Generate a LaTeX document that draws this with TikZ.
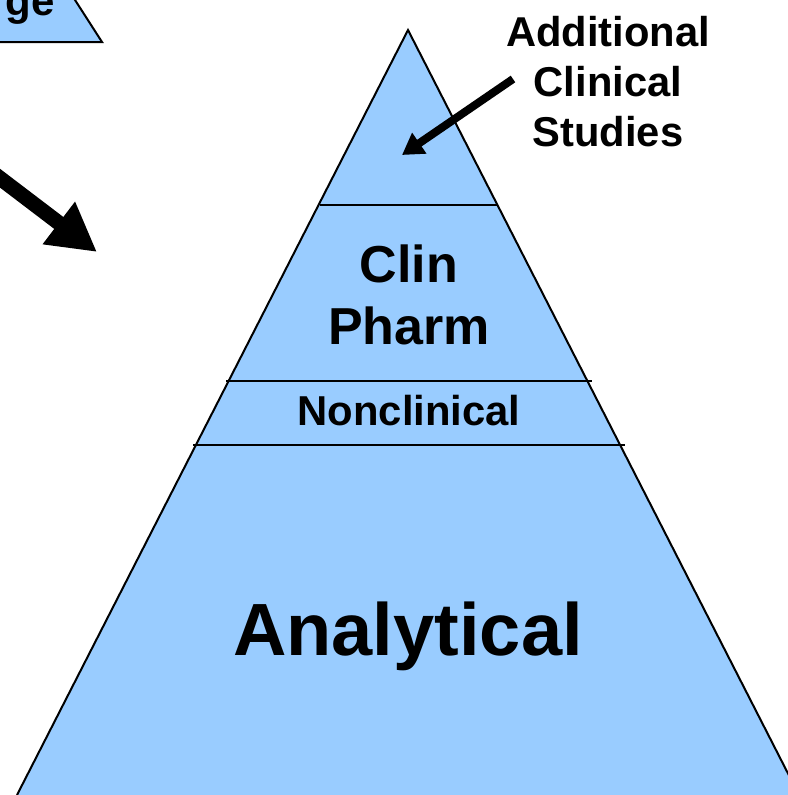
\documentclass[tikz,border=0pt]{standalone}
\usepackage{fontspec}
\setmainfont{Liberation Sans}
\usetikzlibrary{arrows.meta,positioning,calc}
\definecolor{tier}{HTML}{99CCFF}
\tikzset{
  outline/.style={line width=2pt,black},
  tierline/.style={line width=1.6pt,black},
  tiertext/.style={font=\bfseries,align=center,inner sep=0pt},
  bigarrow/.style={-{Triangle[length=48pt,width=50pt]},line width=15pt},
  smallarrow/.style={-{Triangle[length=21pt,width=24pt]},line width=8pt}
}

\begin{document}
\begin{tikzpicture}[x=1pt,y=-1pt]
\useasboundingbox (0,0) rectangle (787,795);
% corner of the previous tier
\fill[tier] (-20,-10) -- (68.6,-10) -- (102,42) -- (-20,42) -- cycle;
\draw[outline] (68.6,-10) -- (102,42) -- (-20,42);
\node[tiertext,font=\bfseries\fontsize{42}{50}\selectfont,anchor=base east] (knowtxt) at (55,15) {ge};
% the pyramid
\coordinate (apex) at (408,30);
\coordinate (bl) at (17,795);
\coordinate (br) at (799,795);
\fill[tier] (apex) -- (br) -- (bl) -- cycle;
\draw[outline,line join=miter] (bl) -- (apex) -- (br);
\foreach \y/\l/\r in {205/320/497,381/226/592,445/193/625}
  \draw[tierline] (\l,\y) -- (\r,\y);
% labels
\node[tiertext,font=\bfseries\fontsize{74}{80}\selectfont,anchor=base] (analyt) at (408,655) {Analytical};
\node[tiertext,font=\bfseries\fontsize{41.8}{50}\selectfont] (noncli) at (409,411) {Nonclinical};
\node[tiertext,font=\bfseries\fontsize{52}{62}\selectfont] (clinph) at (409,295) {Clin\\Pharm};
\node[tiertext,font=\bfseries\fontsize{41.7}{50}\selectfont] (addcli) at (608,82) {Additional\\Clinical\\Studies};
% arrows
\coordinate (toptip) at (402,155);
\coordinate (toptail) at (513,79);
\draw[smallarrow] (toptail) -- (toptip);
\coordinate (bigtail) at (-20,163);
\coordinate (bigtip) at (97,252);
\draw[bigarrow] (bigtail) -- (bigtip);
\end{tikzpicture}
\end{document}
